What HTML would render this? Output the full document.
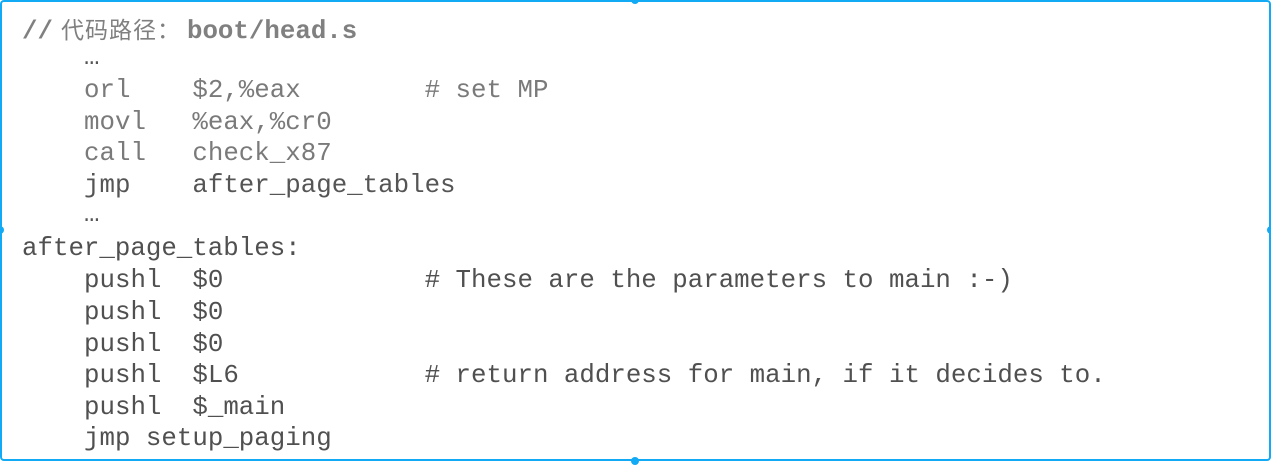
<!DOCTYPE html>
<html><head><meta charset="utf-8"><style>
html,body{margin:0;padding:0;background:#fff}
#f{position:relative;width:1271px;height:461px;box-sizing:border-box;border:2px solid #12aaf5;border-radius:4px;overflow:hidden;background:#fff}
.l{position:absolute;left:0;font-family:"Liberation Mono",monospace;font-size:25.8px;line-height:32px;white-space:pre;color:#505050}
.h{position:absolute;width:8px;height:8px;border-radius:50%;background:#12aaf5}
</style></head><body>
<div id="f">
<div class="l" style="top:10px;left:20px;color:#808080;font-weight:bold">//<span style="font-family:'Noto Sans CJK SC',sans-serif;font-weight:normal;font-size:23px;letter-spacing:1px;margin-left:8px;margin-right:6px">代码路径：</span>boot/head.s</div>
<div class="l" style="top:40px;left:82px;color:#555">…</div>
<div class="l" style="top:73px;left:82px;color:#7a7a7a">orl    $2,%eax        # set MP</div>
<div class="l" style="top:105px;left:82px;color:#7a7a7a">movl   %eax,%cr0</div>
<div class="l" style="top:136px;left:82px;color:#7a7a7a">call   check_x87</div>
<div class="l" style="top:168px;left:82px;color:#555">jmp    after_page_tables</div>
<div class="l" style="top:197px;left:82px;color:#555">…</div>
<div class="l" style="top:231px;left:20px">after_page_tables:</div>
<div class="l" style="top:263px;left:82px">pushl  $0             # These are the parameters to main :-)</div>
<div class="l" style="top:295px;left:82px">pushl  $0</div>
<div class="l" style="top:327px;left:82px">pushl  $0</div>
<div class="l" style="top:358px;left:82px">pushl  $L6            # return address for main, if it decides to.</div>
<div class="l" style="top:390px;left:82px">pushl  $_main</div>
<div class="l" style="top:421px;left:82px">jmp setup_paging</div>
</div>
<div class="h" style="left:631px;top:-4px"></div>
<div class="h" style="left:631px;top:457px"></div>
<div class="h" style="left:-4px;top:226px"></div>
<div class="h" style="left:1267px;top:226px"></div>
</body></html>
